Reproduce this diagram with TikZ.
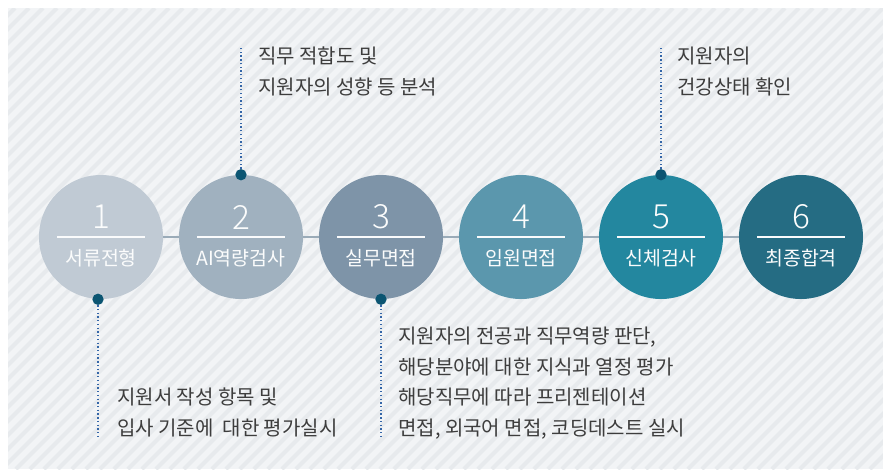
\documentclass[tikz,border=0pt]{standalone}
\usepackage{fontspec}
\newfontfamily\kor{Noto Sans CJK KR}
\newfontfamily\korlight{Noto Sans CJK KR Light}
\usetikzlibrary{calc}

\definecolor{bgc}{HTML}{F2F4F6}
\definecolor{stripec}{HTML}{E7EAED}
\definecolor{c1}{HTML}{C0CAD4}
\definecolor{c2}{HTML}{A0B1BF}
\definecolor{c3}{HTML}{7E94A8}
\definecolor{c4}{HTML}{5B97AD}
\definecolor{c5}{HTML}{23879F}
\definecolor{c6}{HTML}{256C83}
\definecolor{dotc}{HTML}{0B5572}
\definecolor{linkc}{HTML}{9AABB8}
\definecolor{leadc}{HTML}{3466A8}
\definecolor{txtc}{HTML}{3D3D3D}

\tikzset{
    stage/.style={circle, minimum size=93pt, inner sep=0pt},
    dot/.style={circle, fill=dotc, minimum size=8.5pt, inner sep=0pt},
    link/.style={draw=linkc, line width=1.1pt},
    lead/.style={draw=leadc, line width=1pt, dash pattern=on 1pt off 1.8pt},
    rule/.style={draw=white!92!c1, line width=0.8pt},
    num/.style={font=\korlight\fontsize{25}{25}\selectfont, text=white!94!c1, inner sep=0pt},
    stagename/.style={font=\kor\fontsize{14.6}{14.6}\selectfont, text=white!94!c1, inner sep=0pt},
    note/.style={font=\kor\fontsize{15}{22.9}\selectfont, text=txtc, align=left, anchor=north west, inner sep=0pt}
  }

\begin{document}
\begin{tikzpicture}[x=0.75pt,y=-0.75pt]
    \useasboundingbox (0,0) rectangle (883,469);

    % striped backdrop
    \fill[bgc] (8,8) rectangle (883,469);
    \begin{scope}
      \clip (8,8) rectangle (883,469);
      \foreach \s in {-460,-446,...,880} {
        \draw[stripec, line width=3pt] (\s,469) -- ++(461,-461);
      }
    \end{scope}

    % stages
    \foreach \n/\col/\stagetxt in {1/c1/서류전형,2/c2/AI역량검사,3/c3/실무면접,4/c4/임원면접,5/c5/신체검사,6/c6/최종합격} {
      \node[stage, fill=\col] (s\n) at ({101+140*(\n-1)},237) {};
      \node[num] (n\n) at ($(s\n)+(0,-20)$) {\n};
      \node[stagename] (l\n) at ($(s\n)+(0,21)$) {\stagetxt};
      \draw[rule] ($(s\n)+(-44,0)$) -- ($(s\n)+(44,0)$);
    }
    \foreach \a/\b in {1/2,2/3,3/4,4/5,5/6} {
      \draw[link] (s\a) -- (s\b);
    }

    % leaders
    \node[dot] (d1) at ($(s1.south)+(-3,0)$) {};
    \node[dot] (d2) at (s2.north) {};
    \node[dot] (d3) at (s3.south) {};
    \node[dot] (d5) at (s5.north) {};
    \coordinate (e1) at (98,437);
    \coordinate (e2) at (241,47);
    \coordinate (e3) at (381,437);
    \coordinate (e5) at (661,47);
    \draw[lead] (d1) -- (e1);
    \draw[lead] (d2) -- (e2);
    \draw[lead] (d3) -- (e3);
    \draw[lead] (d5) -- (e5);

    % notes
    \node[note] (t1) at (117,388) {지원서 작성 항목 및\\입사 기준에\ \ 대한 평가실시};
    \node[note] (t2) at (258,47) {직무 적합도 및\\지원자의 성향 등 분석};
    \node[note] (t3) at (398,327) {지원자의 전공과 직무역량 판단,\\해당분야에 대한 지식과 열정 평가\\해당직무에 따라 프리젠테이션\\면접, 외국어 면접, 코딩데스트 실시};
    \node[note] (t5) at (677,47) {지원자의\\건강상태 확인};

  \end{tikzpicture}
\end{document}
